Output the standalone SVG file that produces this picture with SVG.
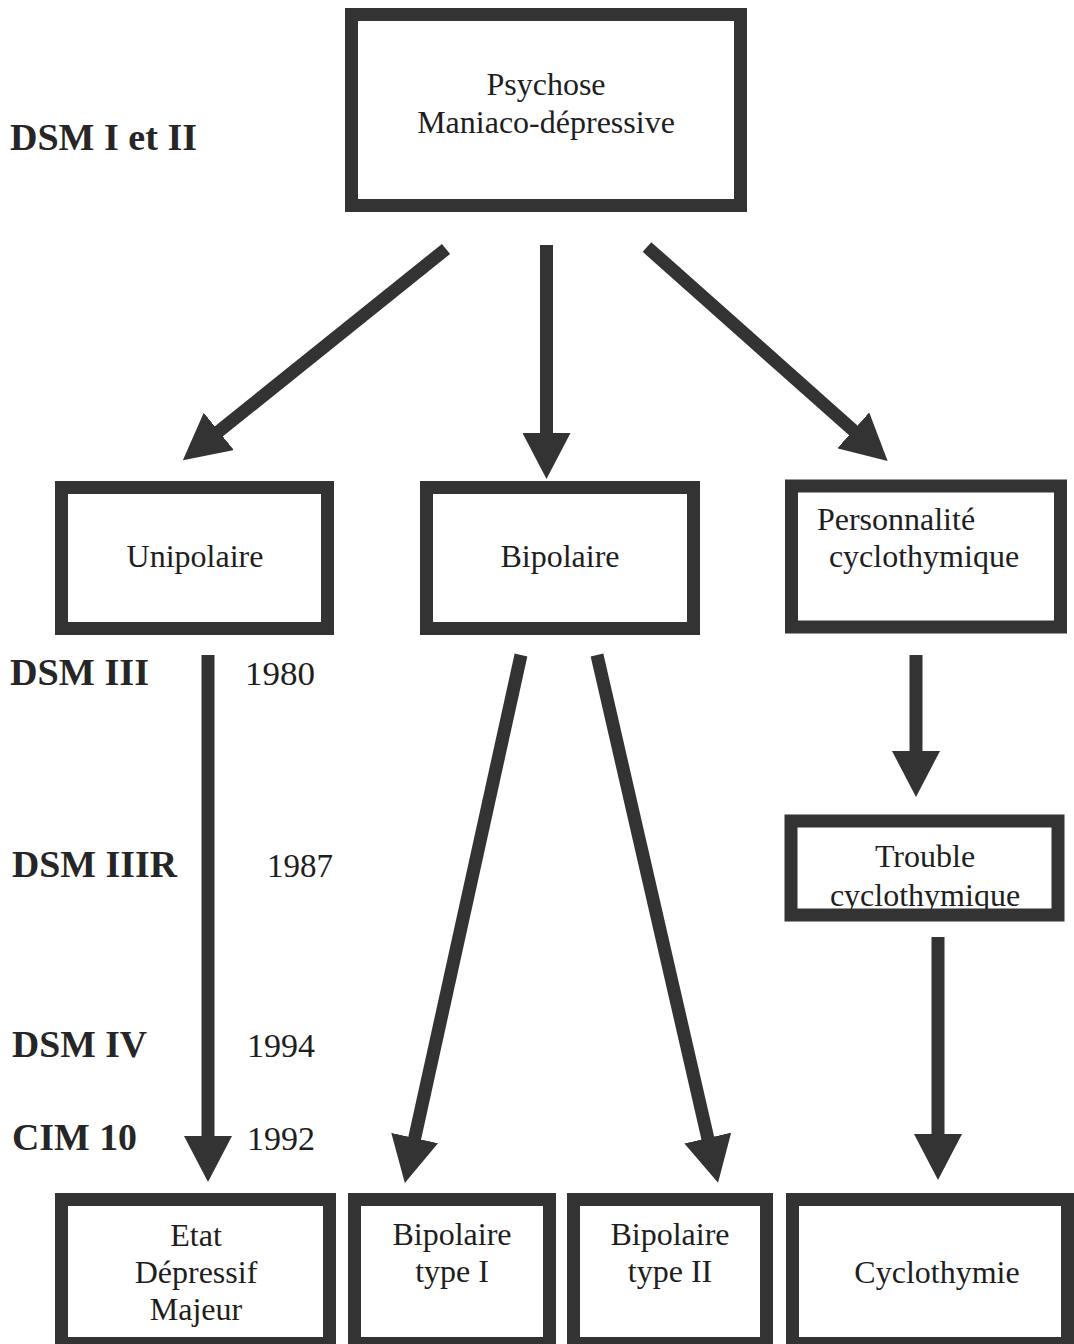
<svg xmlns="http://www.w3.org/2000/svg" width="1074" height="1344" viewBox="0 0 1074 1344">
  <style>
    .box { fill: #ffffff; stroke: #333333; stroke-width: 13; }
    .border { fill: none; stroke: #333333; stroke-width: 13; }
    .t { font-family: "Liberation Serif", "Times New Roman", serif; font-size: 32px; fill: #1e1e1e; text-anchor: middle; }
    .lbl { font-family: "Liberation Serif", "Times New Roman", serif; font-size: 37px; font-weight: bold; fill: #262626; }
    .yr { font-family: "Liberation Serif", "Times New Roman", serif; font-size: 33px; fill: #1e1e1e; }
    .arr { stroke: #333333; stroke-width: 13; fill: none; marker-end: url(#ah); }
  </style>
  <defs>
    <marker id="ah" markerUnits="userSpaceOnUse" markerWidth="46" markerHeight="48" viewBox="0 0 46 48" refX="1" refY="24" orient="auto">
      <path d="M0,0 L46,24 L0,48 Z" fill="#333333"/>
    </marker>
  </defs>
  <rect width="1074" height="1344" fill="#ffffff"/>

  <g id="labels">
    <text class="lbl" x="10" y="150" textLength="187" lengthAdjust="spacingAndGlyphs">DSM I et II</text>
    <text class="lbl" x="10" y="685" textLength="139" lengthAdjust="spacingAndGlyphs">DSM III</text>
    <text class="yr" x="245" y="685" textLength="70" lengthAdjust="spacingAndGlyphs">1980</text>
    <text class="lbl" x="12" y="877" textLength="165" lengthAdjust="spacingAndGlyphs">DSM IIIR</text>
    <text class="yr" x="267" y="877" textLength="66" lengthAdjust="spacingAndGlyphs">1987</text>
    <text class="lbl" x="12" y="1057" textLength="135" lengthAdjust="spacingAndGlyphs">DSM IV</text>
    <text class="yr" x="247" y="1057" textLength="68" lengthAdjust="spacingAndGlyphs">1994</text>
    <text class="lbl" x="12" y="1150" textLength="125" lengthAdjust="spacingAndGlyphs">CIM 10</text>
    <text class="yr" x="247" y="1150" textLength="68" lengthAdjust="spacingAndGlyphs">1992</text>
  </g>

  <g id="connectors">
    <line class="arr" x1="446" y1="249" x2="218" y2="432"/>
    <line class="arr" x1="546.5" y1="245" x2="546.5" y2="434"/>
    <line class="arr" x1="647" y1="247" x2="854" y2="431"/>
    <line class="arr" x1="208" y1="655" x2="208" y2="1137"/>
    <line class="arr" x1="521" y1="655" x2="414.5" y2="1139"/>
    <line class="arr" x1="597" y1="655" x2="708" y2="1139"/>
    <line class="arr" x1="916" y1="655" x2="916" y2="752"/>
    <line class="arr" x1="938" y1="937" x2="938" y2="1135"/>
  </g>

  <g id="node-psychose">
    <rect class="box" x="351.5" y="14.5" width="389" height="191"/>
    <text class="t" x="546" y="95">Psychose</text>
    <text class="t" x="546" y="133">Maniaco-dépressive</text>
  </g>

  <g id="node-unipolaire">
    <rect class="box" x="61.5" y="487.5" width="266" height="141"/>
    <text class="t" x="195" y="567">Unipolaire</text>
  </g>

  <g id="node-bipolaire">
    <rect class="box" x="426.5" y="487.5" width="267" height="141"/>
    <text class="t" x="560" y="567">Bipolaire</text>
  </g>

  <g id="node-personnalite">
    <rect class="box" x="791.5" y="486" width="269" height="141"/>
    <text class="t" x="896" y="530">Personnalité</text>
    <text class="t" x="924" y="567">cyclothymique</text>
  </g>

  <g id="node-trouble">
    <rect x="791" y="821" width="267" height="94" fill="#ffffff"/>
    <text class="t" x="925" y="867">Trouble</text>
    <text class="t" x="925" y="906">cyclothymique</text>
    <rect class="border" x="791" y="821" width="267" height="94"/>
  </g>

  <g id="node-etat">
    <rect class="box" x="61.5" y="1199.5" width="268" height="144"/>
    <text class="t" x="196" y="1246">Etat</text>
    <text class="t" x="196" y="1283">Dépressif</text>
    <text class="t" x="196" y="1320">Majeur</text>
  </g>

  <g id="node-bipolaire-1">
    <rect class="box" x="354.5" y="1199.5" width="195" height="144"/>
    <text class="t" x="452" y="1245">Bipolaire</text>
    <text class="t" x="452" y="1282">type I</text>
  </g>

  <g id="node-bipolaire-2">
    <rect class="box" x="573.5" y="1199.5" width="193" height="144"/>
    <text class="t" x="670" y="1245">Bipolaire</text>
    <text class="t" x="670" y="1282">type II</text>
  </g>

  <g id="node-cyclothymie">
    <rect class="box" x="792.5" y="1199.5" width="275" height="144"/>
    <text class="t" x="937" y="1283">Cyclothymie</text>
  </g>
</svg>
